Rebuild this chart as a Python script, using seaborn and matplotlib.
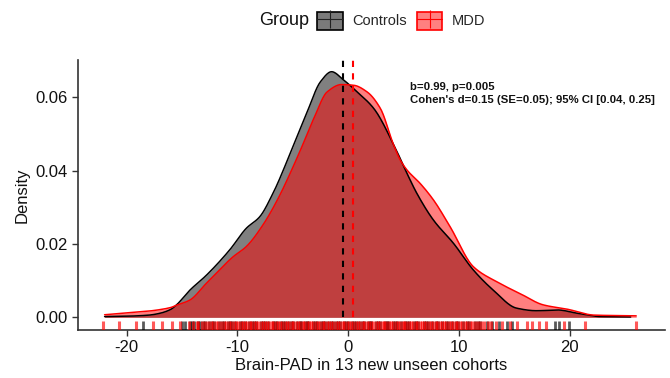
import numpy as np
import pandas as pd
import matplotlib
matplotlib.use("Agg")
import matplotlib.pyplot as plt
import seaborn as sns
from matplotlib.patches import Patch
from matplotlib.lines import Line2D
from matplotlib.legend_handler import HandlerTuple

# ---- data ----
ctrl_x = [-22, -20, -18, -17, -16, -15.5, -14.3, -12.8, -10.7, -9.2, -8.0, -6.8, -5.2, -3.7,
          -2.5, -1.5, -0.4, 0.8, 2.3, 4.4, 5.3, 6.2, 7.7, 9.5, 11.3, 13.1, 15.2, 17.0, 18.9,
          20.7, 22.8, 25.5]
ctrl_y = [0.0002, 0.0003, 0.0006, 0.0011, 0.0022, 0.0034, 0.0074, 0.0115, 0.0184, 0.0243,
          0.0274, 0.0338, 0.0450, 0.0561, 0.0643, 0.0670, 0.0647, 0.0615, 0.0570, 0.0452,
          0.0393, 0.0338, 0.0265, 0.0202, 0.0129, 0.0074, 0.0025, 0.0018, 0.0020, 0.0011,
          0.0002, 0.0001]
mdd_x = [-22, -20, -18, -17, -16, -15.5, -14.3, -12.8, -10.4, -9.2, -7.7, -6.4, -4.5, -3.1,
         -1.9, -0.6, 0.5, 1.7, 2.9, 4.1, 4.7, 5.3, 6.5, 7.7, 9.2, 11.3, 13.4, 15.5, 17.6,
         19.8, 22.2, 26.0]
mdd_y = [0.0007, 0.0012, 0.0017, 0.0021, 0.0027, 0.0033, 0.0047, 0.0093, 0.0165, 0.0193,
         0.0252, 0.0320, 0.0443, 0.0543, 0.0615, 0.0635, 0.0633, 0.0615, 0.0570, 0.0470,
         0.0429, 0.0402, 0.0365, 0.0320, 0.0247, 0.0138, 0.0097, 0.0065, 0.0034, 0.0022,
         0.0006, 0.0004]

ctrl_rug = [-18.5, -15.0, -14.7, -14.3, -14.1, -13.9, -13.6, -13.4, -13.1, -12.9, -12.6, -12.3,
            -12.1, -11.7, -11.4, -11.2, -10.9, -10.7, -10.5, -10.2, -9.8, -9.6, -9.3, -9.0,
            -8.7, -8.5, -8.3, -7.9, -7.7, -7.5, -7.2, -6.8, -6.6, -6.4, -6.1, -5.9, -5.7,
            -5.4, -5.2, -5.0, -4.6, -4.4, -4.3, -3.9, -3.7, -3.6, -3.2, -3.0, -2.8, -2.5,
            -2.3, -2.1, -1.8, -1.6, -1.4, -1.1, -0.9, -0.7, -0.4, -0.2, 0.0, 0.3, 0.5, 0.7,
            1.0, 1.2, 1.4, 1.8, 2.0, 2.1, 2.5, 2.7, 2.9, 3.3, 3.5, 3.6, 4.0, 4.2, 4.4, 4.8,
            5.1, 5.3, 5.5, 5.9, 6.1, 6.3, 6.8, 7.0, 7.2, 7.6, 7.9, 8.1, 8.5, 8.8, 9.0, 9.4,
            9.7, 9.9, 10.4, 10.7, 10.9, 11.4, 11.7, 11.9, 12.5, 13.0, 13.6, 14.3, 14.8,
            18.7, 19.0, 19.9]
mdd_rug = [-22.1, -20.7, -19.2, -17.6, -16.8, -15.9, -15.2,
           -14.4, -14.05, -13.7, -13.55, -13.2, -12.95, -12.7, -12.4, -12.25, -11.9, -11.75,
           -11.5, -11.2, -11.05, -10.8, -10.55, -10.35, -10.1, -9.95, -9.7, -9.5, -9.35,
           -9.1, -8.9, -8.75, -8.5, -8.3, -8.15, -7.9, -7.7, -7.55, -7.3, -7.15, -6.9,
           -6.75, -6.5, -6.3, -6.15, -5.95, -5.7, -5.55, -5.35, -5.1, -4.95, -4.7, -4.55,
           -4.35, -4.1, -3.95, -3.75, -3.5, -3.35, -3.15, -2.9, -2.75, -2.55, -2.3, -2.15,
           -1.95, -1.7, -1.55, -1.35, -1.1, -0.95, -0.75, -0.5, -0.35, -0.15, 0.1, 0.25,
           0.45, 0.7, 0.85, 1.05, 1.3, 1.45, 1.65, 1.9, 2.05, 2.25, 2.5, 2.65, 2.85, 3.1,
           3.25, 3.45, 3.7, 3.85, 4.05, 4.3, 4.45, 4.65, 4.9, 5.05, 5.25, 5.5, 5.65, 5.85,
           6.1, 6.25, 6.45, 6.7, 6.85, 7.05, 7.3, 7.45, 7.65, 7.9, 8.05, 8.25, 8.5, 8.65,
           8.85, 9.1, 9.25, 9.45, 9.7, 9.85, 10.05, 10.3, 10.5, 10.75, 10.95, 11.2, 11.45,
           11.7, 11.95, 12.3, 12.6, 12.9, 13.3, 13.9, 14.6, 15.2, 16.1, 16.6, 17.2, 17.9,
           19.5, 21.4, 26.0]

group_means = {"Controls": -0.45, "MDD": 0.45}
groups = ["Controls", "MDD"]
xticks = [-20, -10, 0, 10, 20]
yticks = [0.00, 0.02, 0.04, 0.06]
annot1 = "b=0.99, p=0.005"
annot2 = "Cohen's d=0.15 (SE=0.05); 95% CI [0.04, 0.25]"


def pchip(x, y, xn):
    """Shape-preserving cubic curve through the read points (drawing aid only)."""
    x = np.asarray(x, float)
    y = np.asarray(y, float)
    h = np.diff(x)
    d = np.diff(y) / h
    m = np.zeros_like(y)
    for k in range(1, len(x) - 1):
        if d[k - 1] * d[k] > 0:
            w1 = 2 * h[k] + h[k - 1]
            w2 = h[k] + 2 * h[k - 1]
            m[k] = (w1 + w2) / (w1 / d[k - 1] + w2 / d[k])
    m[0] = d[0]
    m[-1] = d[-1]
    idx = np.clip(np.searchsorted(x, xn) - 1, 0, len(x) - 2)
    t = (xn - x[idx]) / h[idx]
    h00 = 2 * t**3 - 3 * t**2 + 1
    h10 = t**3 - 2 * t**2 + t
    h01 = -2 * t**3 + 3 * t**2
    h11 = t**3 - t**2
    return h00 * y[idx] + h10 * h[idx] * m[idx] + h01 * y[idx + 1] + h11 * h[idx] * m[idx + 1]


# ---- plotting ----
sns.set_theme(style="white")
plt.rcParams["font.family"] = ["Liberation Sans", "DejaVu Sans"]

fig = plt.figure(figsize=(6.7, 3.78), dpi=100)
ax = fig.add_axes([78 / 670, 1 - 330 / 378, (665 - 78) / 670, (330 - 60) / 378])

curves = []
for g, xs, ys in [("Controls", ctrl_x, ctrl_y), ("MDD", mdd_x, mdd_y)]:
    xn = np.linspace(xs[0], xs[-1], 600)
    curves.append(pd.DataFrame({"x": xn, "y": pchip(xs, ys, xn), "Group": g}))
dens = pd.concat(curves)
rug = pd.concat([
    pd.DataFrame({"x": ctrl_rug, "Group": "Controls"}),
    pd.DataFrame({"x": mdd_rug, "Group": "MDD"}),
])

fill_col = {"Controls": (0.5, 0.5, 0.5, 1.0), "MDD": (1.0, 0.0, 0.0, 0.5)}
line_col = {"Controls": "black", "MDD": "red"}

for g in groups:
    d = dens[dens.Group == g]
    ax.fill_between(d.x, 0, d.y, color=fill_col[g], lw=0, zorder=2)
    sns.lineplot(data=d, x="x", y="y", color=line_col[g], lw=1.1, ax=ax, zorder=3,
                 sort=True, estimator=None)

for g in groups:
    ax.axvline(group_means[g], ymin=(0 + 0.00346) / (0.0702 + 0.00346), ymax=1,
               color=line_col[g], ls=(0, (3, 3)), lw=1.5, zorder=4)

sns.rugplot(data=rug[rug.Group == "Controls"], x="x", color="black", alpha=0.65,
            height=0.034, linewidth=2.0, ax=ax, zorder=5)
sns.rugplot(data=rug[rug.Group == "MDD"], x="x", color="red", alpha=0.65,
            height=0.034, linewidth=2.2, ax=ax, zorder=6)

ax.set_xlim(-24.4, 28.6)
ax.set_ylim(-0.00346, 0.0702)
ax.set_xticks(xticks)
ax.set_xticklabels([f"{t}" for t in xticks])
ax.set_yticks(yticks)
ax.set_yticklabels([f"{t:.2f}" for t in yticks])
ax.tick_params(axis="both", labelsize=12, colors="#333333", labelcolor="#111111",
               length=4, width=1, direction="out", bottom=True, left=True)
for s in ["top", "right"]:
    ax.spines[s].set_visible(False)
for s in ["left", "bottom"]:
    ax.spines[s].set_color("#333333")
    ax.spines[s].set_linewidth(1.2)
ax.set_xlabel("Brain-PAD in 13 new unseen cohorts", fontsize=12, color="#111111", labelpad=2)
ax.set_ylabel("Density", fontsize=12, color="#111111", labelpad=4)
ax.grid(False)

ax.text(5.6, 0.0627, annot1, fontsize=8.2, fontweight="bold", ha="left", va="center",
        color="#111111")
ax.text(5.6, 0.0592, annot2, fontsize=8.2, fontweight="bold", ha="left", va="center",
        color="#111111")

# legend
handles = [
    (Patch(facecolor="#7a7a7a", edgecolor="black", lw=1.2),
     Line2D([], [], color="#222222", lw=0.8, marker="|", markersize=13, markeredgewidth=0.8)),
    (Patch(facecolor="#ff8080", edgecolor="red", lw=1.2),
     Line2D([], [], color="red", lw=0.8, marker="|", markersize=13, markeredgewidth=0.8)),
]
fig.text(309 / 670, 1 - 20.7 / 378, "Group", fontsize=13, ha="right", va="center",
         color="#111111")
fig.legend(handles, groups, handler_map={tuple: HandlerTuple(ndivide=1, pad=0)},
           loc="center left", bbox_to_anchor=(317 / 670, 1 - 20.7 / 378), ncol=2,
           frameon=False, fontsize=10.5, handlelength=1.78, handleheight=1.55,
           handletextpad=0.62, columnspacing=0.68, borderaxespad=0, borderpad=0)

fig.savefig("out.png", dpi=100)
